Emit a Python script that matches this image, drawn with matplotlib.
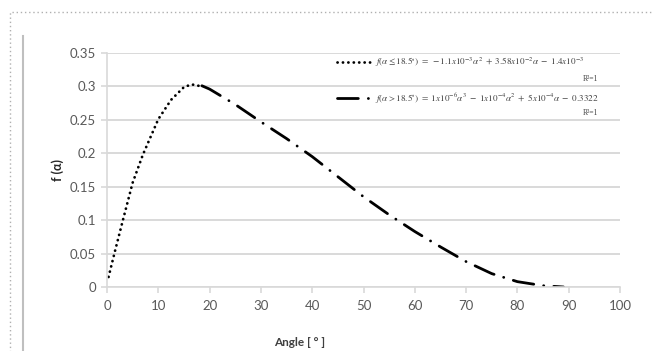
import matplotlib
matplotlib.use("Agg")
from matplotlib import pyplot as plt
from matplotlib.lines import Line2D
from matplotlib.patches import Rectangle

# values
angle_low = [0.3, 1.5, 3.0, 5.0, 7.0, 10.0, 12.5, 15.0, 16.5, 18.5]
f_low = [0.015, 0.052, 0.097, 0.156, 0.198, 0.251, 0.280, 0.299, 0.303, 0.300]

angle_high = [18.5, 20, 25, 30, 35, 40, 45, 50, 55, 60, 65, 70, 75, 80, 85, 89]
f_high = [0.301, 0.296, 0.273, 0.247, 0.222, 0.195, 0.165, 0.135, 0.108,
          0.083, 0.060, 0.038, 0.020, 0.008, 0.002, 0.0]

x_ticks = list(range(0, 101, 10))
y_ticks = [0, 0.05, 0.1, 0.15, 0.2, 0.25, 0.3, 0.35]
y_ticklabels = ["0", "0.05", "0.1", "0.15", "0.2", "0.25", "0.3", "0.35"]

label_low = r"$f(\alpha \leq 18.5^{\circ})\ =\ -1.1x10^{-3}\alpha^{2}\ +\ 3.58x10^{-2}\alpha\ -\ 1.4x10^{-3}$"
label_high = r"$f(\alpha > 18.5^{\circ})\ =\ 1x10^{-6}\alpha^{3}\ -\ 1x10^{-4}\alpha^{2}\ +\ 5x10^{-4}\alpha\ -\ 0.3322$"

plt.rcParams['font.family'] = ['Lato', 'DejaVu Sans']
plt.rcParams['mathtext.fontset'] = 'stix'

W, H = 654, 351
fig = plt.figure(figsize=(W / 100, H / 100), dpi=100)

# dotted frame and grey bar on the left, as in the screenshot
fig.patches.append(Rectangle((10 / W, -0.1), 1.2, (H - 12) / H + 0.1, transform=fig.transFigure,
                             fill=False, ec='#b0b0b0', lw=1, ls=(0, (1, 2))))
fig.lines.append(Line2D([23 / W, 23 / W], [0, 1 - 36 / H], transform=fig.transFigure,
                        color='#bfbfbf', lw=1.5))

ax = fig.add_axes([107 / W, (H - 287) / H, 513 / W, 234 / H])

ax.plot(angle_low, f_low, color='black', lw=2.0, ls=(0, (0.05, 1.9)),
        dash_capstyle='round', solid_capstyle='round', label=label_low)
ax.plot(angle_high, f_high, color='black', lw=2.0, ls=(0, (7.5, 3.6, 0.05, 3.6)),
        dash_capstyle='round', label=label_high)

ax.set_xlim(0, 100)
ax.set_ylim(0, 0.35)
ax.set_xticks(x_ticks)
ax.set_yticks(y_ticks)
ax.set_yticklabels(y_ticklabels)
ax.grid(axis='y', color='#d9d9d9', lw=1.4)
ax.set_axisbelow(True)
for s in ['top', 'right']:
    ax.spines[s].set_visible(False)
for s in ['left', 'bottom']:
    ax.spines[s].set_color('#d9d9d9')
    ax.spines[s].set_linewidth(1.2)
ax.tick_params(colors='#d9d9d9', labelcolor='#595959', labelsize=9.5, length=4, width=1.2)
ax.tick_params(axis='x', pad=5)
ax.tick_params(axis='y', pad=4)

fig.text(300 / W, 1 - 342 / H, "Angle [ ° ]", ha='center', va='center',
         fontsize=8.5, fontweight='bold', color='#404040')
fig.text(58 / W, 1 - 170 / H, r"f (α)", ha='center', va='center', rotation=90,
         fontsize=9, fontweight='bold', color='#262626')

leg = ax.legend(loc='upper left', bbox_to_anchor=(337 / W, 1 - 56 / H),
                bbox_transform=fig.transFigure, frameon=False, fontsize=6.6,
                handlelength=3.6, handletextpad=0.5, labelspacing=2.4,
                borderpad=0, borderaxespad=0, labelcolor='#404040')

fig.text(598 / W, 1 - 79 / H, r"R²=1", ha='right', va='center', fontsize=5.5,
         color='#404040', family='Liberation Serif')
fig.text(598 / W, 1 - 113 / H, r"R²=1", ha='right', va='center', fontsize=5.5,
         color='#404040', family='Liberation Serif')

fig.savefig("out.png", dpi=100)
